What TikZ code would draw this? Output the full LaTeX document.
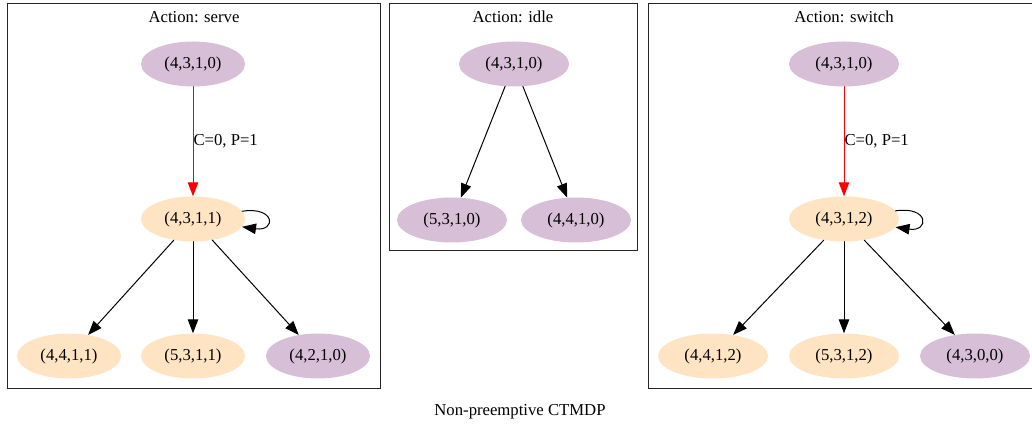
\documentclass[tikz,border=0pt]{standalone}
\usepackage{fontspec}
\setmainfont{Liberation Serif}
\usepackage{tikz}
\usetikzlibrary{shapes.geometric,arrows.meta}

\begin{document}
\begin{tikzpicture}
		[x=1pt,y=1pt,line cap=round,
		%Styles
		state/.style={ellipse,minimum width=110pt,minimum height=45pt,inner sep=0pt,font=\fontsize{16.7}{20}\selectfont},
		passive state/.style={state,fill=thistle},
		busy state/.style={state,fill=bisque},
		cluster box/.style={line width=1pt,black!85},
		cluster title/.style={font=\fontsize{16.7}{20}\selectfont},
		transition/.style={-{Triangle[length=14pt,width=10.5pt]},line width=1pt},
		chosen/.style={transition,red},
		edge text/.style={anchor=west,inner sep=0pt,text=black,font=\fontsize{16.7}{20}\selectfont}
		]
		
		%Colors
		\definecolor{thistle}{HTML}{D8BFD8}	%idle states
		\definecolor{bisque}{HTML}{FFE4C4}	%busy states
		
		\useasboundingbox (0,0) rectangle (1032,425);
		
		%Action: serve
		\draw[cluster box] (7,421) rectangle (380,36);
		\node[cluster title] (serve) at (194,408) {Action: serve};
		\begin{scope}[state/.append style={minimum width=104pt}]
		\node[passive state] (S0) at (193,361) {(4,3,1,0)};
		\node[busy state] (S1) at (193,206) {(4,3,1,1)};
		\node[busy state] (S2) at (69,69) {(4,4,1,1)};
		\node[busy state] (S3) at (193,69) {(5,3,1,1)};
		\node[passive state] (S4) at (318,69) {(4,2,1,0)};
		\end{scope}
		\draw[chosen] (S0) -- node[edge text] {C=0, P=1} (S1);
		\draw[transition] (S1.9) .. controls +(34,5) and +(34,-5) .. (S1.-9);
		\foreach \t in {S2,S3,S4}
			\draw[transition] (S1) -- (\t);
		
		%Action: idle
		\draw[cluster box] (389,421) rectangle (637,174);
		\node[cluster title] (idle) at (513,408) {Action: idle};
		\node[passive state] (I0) at (514,361) {(4,3,1,0)};
		\node[passive state] (I1) at (452,205) {(5,3,1,0)};
		\node[passive state] (I2) at (576,205) {(4,4,1,0)};
		\draw[transition] (I0) -- (I1);
		\draw[transition] (I0) -- (I2);
		
		%Action: switch
		\draw[cluster box] (648,421) rectangle (1033,36);
		\node[cluster title] (switch) at (844,408) {Action: switch};
		\node[passive state] (W0) at (844,361) {(4,3,1,0)};
		\node[busy state] (W1) at (844,206) {(4,3,1,2)};
		\node[busy state] (W2) at (713,69) {(4,4,1,2)};
		\node[busy state] (W3) at (844,69) {(5,3,1,2)};
		\node[passive state] (W4) at (975,69) {(4,3,0,0)};
		\draw[chosen] (W0) -- node[edge text] {C=0, P=1} (W1);
		\draw[transition] (W1.9) .. controls +(34,5) and +(34,-5) .. (W1.-9);
		\foreach \t in {W2,W3,W4}
			\draw[transition] (W1) -- (\t);
		
		\node[cluster title] (caption) at (520,13) {Non-preemptive CTMDP};
	\end{tikzpicture}
\end{document}
